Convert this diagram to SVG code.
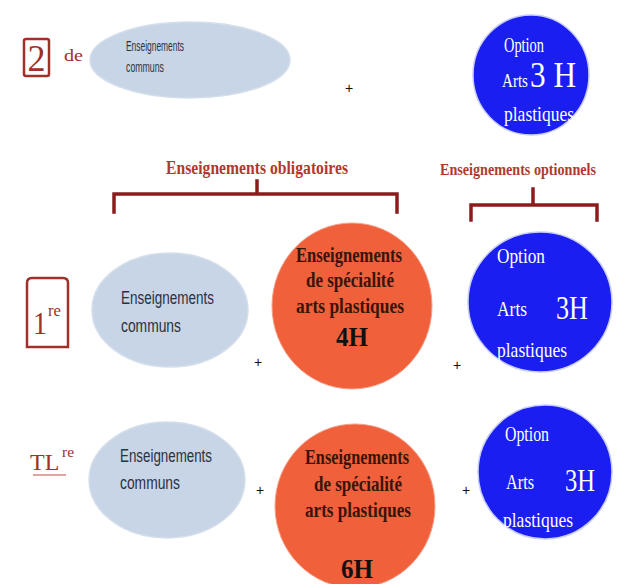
<svg xmlns="http://www.w3.org/2000/svg" width="630" height="584" viewBox="0 0 630 584">
<style>
.com{fill:#c8d5e6;stroke:#d5dfec;stroke-width:1.5}
.blue{fill:#1a1ef0;stroke:#c8cdf5;stroke-width:1.5}
.orange{fill:#ef603b;stroke:#f3a08a;stroke-width:1}
.ct{fill:#2a3142;font-family:"Liberation Sans",sans-serif}
.wt{fill:#ffffff;font-family:"Liberation Serif",serif}
.ot{fill:#3a1408;font-family:"Liberation Serif",serif}
.lab{fill:#b0392e;font-weight:bold;font-family:"Liberation Serif",serif}
.plus{fill:#111;font-family:"Liberation Sans",sans-serif}
.box{fill:none;stroke:#a03028;stroke-width:2.5}
.yr{fill:#a03028;font-family:"Liberation Serif",serif}
.br{fill:none;stroke:#8b1c1c;stroke-width:3.5;stroke-linecap:square}
</style>

<g id="level-2de">
<rect class="box" x="24" y="39" width="25" height="37" rx="2"/>
<text class="yr" x="36.5" y="71" style="font-size:38px" text-anchor="middle" textLength="18" lengthAdjust="spacingAndGlyphs">2</text>
<text class="yr" x="64" y="61" style="font-size:16px" textLength="19" lengthAdjust="spacingAndGlyphs">de</text>
</g>

<g id="communs-1">
<ellipse class="com" cx="190" cy="60" rx="100" ry="38"/>
<text class="ct" x="126" y="51" style="font-size:15px" textLength="58" lengthAdjust="spacingAndGlyphs">Enseignements</text>
<text class="ct" x="126" y="72" style="font-size:15px" textLength="38" lengthAdjust="spacingAndGlyphs">communs</text>
</g>

<g id="option-1">
<ellipse class="blue" cx="531" cy="75" rx="58" ry="60"/>
<text class="wt" x="504" y="52" style="font-size:22px" textLength="40" lengthAdjust="spacingAndGlyphs">Option</text>
<text class="wt" x="502" y="87" style="font-size:18px" textLength="26" lengthAdjust="spacingAndGlyphs">Arts</text>
<text class="wt" x="530" y="87" style="font-size:36px" textLength="46" lengthAdjust="spacingAndGlyphs">3 H</text>
<text class="wt" x="504" y="121" style="font-size:22px" textLength="70" lengthAdjust="spacingAndGlyphs">plastiques</text>
</g>

<g id="label-obligatoires">
<text class="lab" x="257" y="174" style="font-size:19px" text-anchor="middle" textLength="182" lengthAdjust="spacingAndGlyphs">Enseignements obligatoires</text>
</g>
<g id="label-optionnels">
<text class="lab" x="518" y="175" style="font-size:16px" text-anchor="middle" textLength="156" lengthAdjust="spacingAndGlyphs">Enseignements optionnels</text>
</g>

<g id="level-1re">
<path class="box" d="M27 347 V283 Q27 278 32 278 H63 Q68 278 68 283 V347 Z"/>
<text class="yr" x="33" y="334" style="font-size:32px" textLength="14" lengthAdjust="spacingAndGlyphs">1</text>
<text class="yr" x="48" y="316" style="font-size:17px" textLength="13" lengthAdjust="spacingAndGlyphs">re</text>
</g>

<g id="communs-2">
<ellipse class="com" cx="170" cy="310" rx="78" ry="57"/>
<text class="ct" x="121" y="304" style="font-size:18px" textLength="93" lengthAdjust="spacingAndGlyphs">Enseignements</text>
<text class="ct" x="121" y="332" style="font-size:18px" textLength="60" lengthAdjust="spacingAndGlyphs">communs</text>
</g>

<g id="specialite-1">
<ellipse class="orange" cx="352" cy="306" rx="80" ry="83"/>
<text class="ot" x="349" y="262" style="font-size:21px;font-weight:bold" text-anchor="middle" textLength="106" lengthAdjust="spacingAndGlyphs">Enseignements</text>
<text class="ot" x="350" y="287" style="font-size:21px;font-weight:bold" text-anchor="middle" textLength="88" lengthAdjust="spacingAndGlyphs">de spécialité</text>
<text class="ot" x="350" y="313" style="font-size:21px;font-weight:bold" text-anchor="middle" textLength="108" lengthAdjust="spacingAndGlyphs">arts plastiques</text>
<text class="ot" x="352" y="346" style="font-size:28px;font-weight:bold;fill:#111" text-anchor="middle" textLength="32" lengthAdjust="spacingAndGlyphs">4H</text>
</g>

<g id="option-2">
<ellipse class="blue" cx="540" cy="302" rx="72" ry="70"/>
<text class="wt" x="497" y="263" style="font-size:22px" textLength="48" lengthAdjust="spacingAndGlyphs">Option</text>
<text class="wt" x="497" y="316" style="font-size:20px" textLength="30" lengthAdjust="spacingAndGlyphs">Arts</text>
<text class="wt" x="556" y="319" style="font-size:34px" textLength="32" lengthAdjust="spacingAndGlyphs">3H</text>
<text class="wt" x="497" y="357" style="font-size:22px" textLength="70" lengthAdjust="spacingAndGlyphs">plastiques</text>
</g>

<g id="level-TLre">
<text class="yr" x="30" y="470" style="font-size:24px">TL</text>
<text class="yr" x="62" y="457" style="font-size:15px" textLength="12" lengthAdjust="spacingAndGlyphs">re</text>
<line x1="33" y1="475" x2="66" y2="475" stroke="#c04a40" stroke-width="1"/>
</g>

<g id="communs-3">
<ellipse class="com" cx="167" cy="480" rx="78" ry="58"/>
<text class="ct" x="120" y="462" style="font-size:18px" textLength="92" lengthAdjust="spacingAndGlyphs">Enseignements</text>
<text class="ct" x="120" y="489" style="font-size:18px" textLength="60" lengthAdjust="spacingAndGlyphs">communs</text>
</g>

<g id="specialite-2">
<ellipse class="orange" cx="355" cy="506" rx="80" ry="82"/>
<text class="ot" x="357" y="464" style="font-size:21px;font-weight:bold" text-anchor="middle" textLength="104" lengthAdjust="spacingAndGlyphs">Enseignements</text>
<text class="ot" x="358" y="491" style="font-size:21px;font-weight:bold" text-anchor="middle" textLength="88" lengthAdjust="spacingAndGlyphs">de spécialité</text>
<text class="ot" x="358" y="517" style="font-size:21px;font-weight:bold" text-anchor="middle" textLength="106" lengthAdjust="spacingAndGlyphs">arts plastiques</text>
<text class="ot" x="357" y="578" style="font-size:28px;font-weight:bold;fill:#111" text-anchor="middle" textLength="32" lengthAdjust="spacingAndGlyphs">6H</text>
</g>

<g id="option-3">
<ellipse class="blue" cx="545" cy="472" rx="67" ry="67"/>
<text class="wt" x="505" y="441" style="font-size:22px" textLength="44" lengthAdjust="spacingAndGlyphs">Option</text>
<text class="wt" x="506" y="489" style="font-size:20px" textLength="28" lengthAdjust="spacingAndGlyphs">Arts</text>
<text class="wt" x="565" y="491" style="font-size:32px" textLength="30" lengthAdjust="spacingAndGlyphs">3H</text>
<text class="wt" x="503" y="527" style="font-size:22px" textLength="70" lengthAdjust="spacingAndGlyphs">plastiques</text>
</g>

<g id="connectors">
<path class="br" d="M114 212 V194 H397 V212 M257 194 V181"/>
<path class="br" d="M471 220 V205 H597 V220 M533 205 V189"/>
<text class="plus" x="349" y="93" style="font-size:14px" text-anchor="middle">+</text>
<text class="plus" x="258" y="367" style="font-size:14px" text-anchor="middle">+</text>
<text class="plus" x="457" y="370" style="font-size:14px" text-anchor="middle">+</text>
<text class="plus" x="260" y="495" style="font-size:14px" text-anchor="middle">+</text>
<text class="plus" x="466" y="495" style="font-size:14px" text-anchor="middle">+</text>
</g>
</svg>
